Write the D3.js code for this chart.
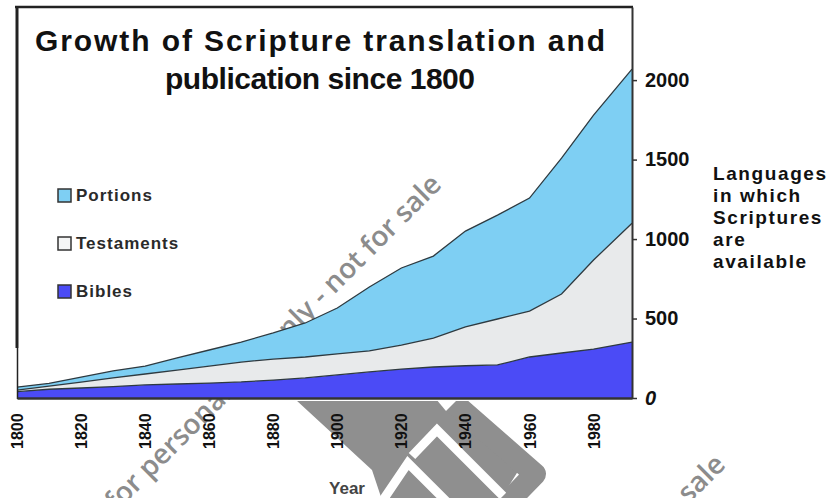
<!DOCTYPE html>
<html>
<head>
<meta charset="utf-8">
<script src="https://cdn.jsdelivr.net/npm/d3@7"></script>
<style>
  body { margin: 0; background: #fff; }
  svg { display: block; }
</style>
</head>
<body>
<div id="plot"></div>
<script>
// values (number of languages)
const years      = [1800, 1810, 1820, 1830, 1840, 1850, 1860, 1870, 1880, 1890, 1900, 1910, 1920, 1930, 1940, 1950, 1960, 1970, 1980, 1992];
const bibles     = [40, 55, 63, 72, 82, 88, 94, 101, 113, 126, 145, 164, 182, 195, 203, 208, 258, 283, 308, 352];
const testaments = [10, 20, 37, 54, 69, 88, 107, 125, 132, 132, 132, 132, 151, 182, 244, 289, 289, 371, 560, 748];
const portions   = [19, 17, 32, 44, 50, 76, 101, 126, 164, 214, 289, 402, 485, 516, 603, 654, 711, 855, 912, 969];

const seriesNames = ["Bibles", "Testaments", "Portions"];
const legendOrder = ["Portions", "Testaments", "Bibles"];
const xTicks = [1800, 1820, 1840, 1860, 1880, 1900, 1920, 1940, 1960, 1980];
const yTicks = [0, 500, 1000, 1500, 2000];
const titleLines = ["Growth of Scripture translation and", "publication since 1800"];
const sideLabel = ["Languages", "in which", "Scriptures", "are", "available"];
const xLabel = "Year";
const watermark = "for personal use only - not for sale";

const colors = { Bibles: "#4b4bf6", Testaments: "#e8eaeb", Portions: "#7ecff3" };

const width = 832, height = 498;
const svg = d3.select("#plot").append("svg")
    .attr("width", width)
    .attr("height", height);

const x = d3.scaleLinear().domain([1800, 1992]).range([17, 632]);
const y = d3.scaleLinear().domain([0, 2460]).range([398, 7]);

// watermark sits underneath everything
const wm = svg.append("g").attr("fill", "#8c8c8c");
wm.append("clipPath").attr("id", "below")
    .append("rect").attr("x", 0).attr("y", 401).attr("width", width).attr("height", 100);
const logo = wm.append("g").attr("clip-path", "url(#below)");
logo.append("path")
    .attr("d", "M296,400 L452,400 L520,468 L500,500 L382,500 L372,470 Z")
    .attr("fill", "#8f8f8f");
logo.append("path")
    .attr("d", "M455,404 L535,474 L505,505")
    .attr("fill", "none").attr("stroke", "#8f8f8f").attr("stroke-width", 22)
    .attr("stroke-linecap", "round").attr("stroke-linejoin", "round");
logo.append("path")
    .attr("d", "M383,500 L408,463 L448,503")
    .attr("fill", "none").attr("stroke", "#fff").attr("stroke-width", 9);
logo.append("path")
    .attr("d", "M412,456 L437,430 L503,496")
    .attr("fill", "none").attr("stroke", "#fff").attr("stroke-width", 9);
logo.append("path")
    .attr("d", "M436,399 L446,411 L458,399 Z")
    .attr("fill", "#fff");

wm.selectAll("text.wm")
    .data([[443, 186], [727, 466]])
    .enter().append("text")
    .attr("class", "wm")
    .attr("transform", d => `translate(${d[0]},${d[1]}) rotate(-45)`)
    .attr("text-anchor", "end")
    .style("font-family", "'Open Sans', sans-serif")
    .style("font-weight", 600)
    .style("font-size", "28px")
    .text(watermark);

// stacked areas
const table = years.map((yr, i) => ({
    year: yr,
    Bibles: bibles[i],
    Testaments: testaments[i],
    Portions: portions[i]
}));
const stacked = d3.stack().keys(seriesNames)(table);

const area = d3.area()
    .x(d => x(d.data.year))
    .y0(d => y(d[0]))
    .y1(d => y(d[1]));
const topLine = d3.line()
    .x(d => x(d.data.year))
    .y(d => y(d[1]));

svg.append("g").selectAll("path")
    .data(stacked)
    .enter().append("path")
    .attr("d", area)
    .attr("fill", d => colors[d.key]);

svg.append("g").selectAll("path")
    .data(stacked)
    .enter().append("path")
    .attr("d", topLine)
    .attr("fill", "none")
    .attr("stroke", "#2e3a40")
    .attr("stroke-width", 1.3);

// frame
const frame = svg.append("g").attr("stroke", "#222").attr("fill", "none");
frame.append("line").attr("x1", 15).attr("x2", 633).attr("y1", 7).attr("y2", 7).attr("stroke-width", 2.5);
frame.append("line").attr("x1", 17).attr("x2", 17).attr("y1", 6).attr("y2", 348).attr("stroke-width", 3);
frame.append("line").attr("x1", 17.5).attr("x2", 17.5).attr("y1", 348).attr("y2", 399).attr("stroke-width", 1.5);

// right value axis
const yAxis = svg.append("g")
    .attr("transform", `translate(${x(1992)},0)`)
    .call(d3.axisRight(y).tickValues(yTicks).tickFormat(d3.format("d"))
        .tickSize(5).tickSizeOuter(0).tickPadding(8));
yAxis.select(".domain").attr("stroke", "#333").attr("stroke-width", 2);
yAxis.selectAll(".tick line").attr("stroke", "#333").attr("stroke-width", 1.5);
yAxis.selectAll(".tick text")
    .attr("fill", "#111")
    .style("font-family", "'Liberation Sans', Arial, sans-serif")
    .style("font-weight", "bold")
    .style("font-size", "20px")
    .style("font-style", d => d === 0 ? "italic" : "normal");

// bottom axis
const xAxis = svg.append("g")
    .attr("transform", `translate(0,${y(0)})`)
    .call(d3.axisBottom(x).tickValues(xTicks).tickSize(0).tickFormat(""));
xAxis.select(".domain").attr("stroke", "#333").attr("stroke-width", 2.5);

svg.append("g").selectAll("text")
    .data(xTicks)
    .enter().append("text")
    .attr("transform", d => `translate(${x(d) + 6},449) rotate(-90)`)
    .attr("fill", "#111")
    .style("font-family", "'Liberation Sans', Arial, sans-serif")
    .style("font-weight", "bold")
    .style("font-size", "16px")
    .text(d => d);

svg.append("text")
    .attr("x", 347)
    .attr("y", 494)
    .attr("text-anchor", "middle")
    .attr("fill", "#444")
    .style("font-family", "'Liberation Sans', Arial, sans-serif")
    .style("font-weight", "bold")
    .style("font-size", "17px")
    .text(xLabel);

// title
svg.append("g").selectAll("text")
    .data(titleLines)
    .enter().append("text")
    .attr("x", 320)
    .attr("y", (d, i) => 51 + i * 38)
    .attr("text-anchor", "middle")
    .attr("fill", "#111")
    .attr("textLength", (d, i) => i === 0 ? 570 : 310)
    .attr("lengthAdjust", "spacing")
    .style("font-family", "'Liberation Sans', Arial, sans-serif")
    .style("font-weight", "bold")
    .style("font-size", "30px")
    .text(d => d);

// legend
const legend = svg.append("g").selectAll("g")
    .data(legendOrder)
    .enter().append("g")
    .attr("transform", (d, i) => `translate(58,${189 + i * 48})`);
legend.append("rect")
    .attr("width", 13).attr("height", 13)
    .attr("fill", d => d === "Testaments" ? "#f4f5f5" : colors[d])
    .attr("stroke", "#333").attr("stroke-width", 1.5);
legend.append("text")
    .attr("x", 18)
    .attr("y", 12)
    .attr("fill", "#2a2a2a")
    .style("font-family", "'Liberation Sans', Arial, sans-serif")
    .style("font-weight", "bold")
    .style("font-size", "17px")
    .style("letter-spacing", "1px")
    .text(d => d);

// side label
svg.append("g").selectAll("text")
    .data(sideLabel)
    .enter().append("text")
    .attr("x", 713)
    .attr("y", (d, i) => 180 + i * 22)
    .attr("fill", "#111")
    .style("font-family", "'Liberation Sans', Arial, sans-serif")
    .style("font-weight", "bold")
    .style("font-size", "19px")
    .style("letter-spacing", "1.6px")
    .text(d => d);
</script>
</body>
</html>
